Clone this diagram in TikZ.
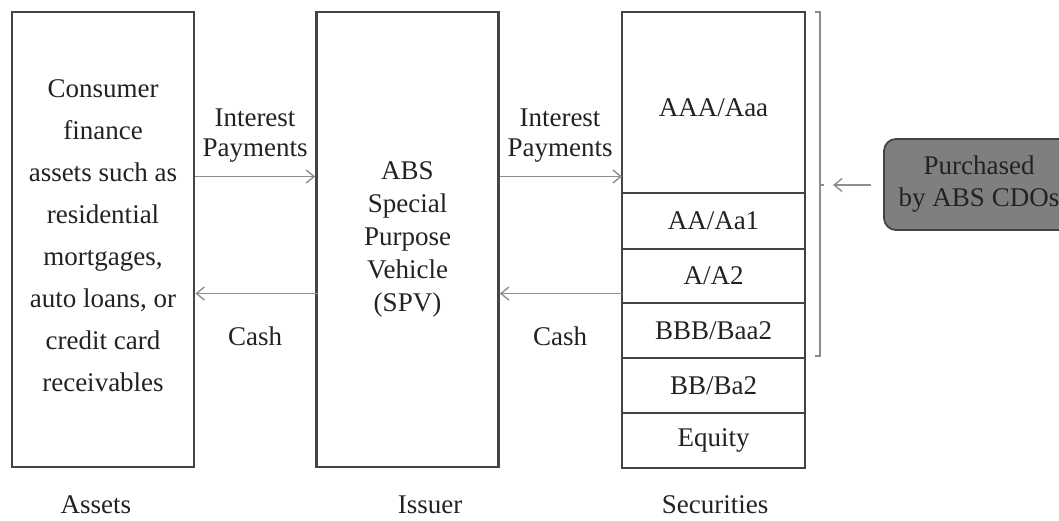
\documentclass[tikz,border=0pt]{standalone}
\usepackage{fontspec}
\setmainfont{Liberation Serif}
\usetikzlibrary{arrows.meta}
\definecolor{boxline}{HTML}{444444}
\definecolor{flowline}{HTML}{8E8E8E}
\definecolor{ink}{HTML}{222222}
\definecolor{buyfill}{HTML}{7F7F7F}
\begin{document}
\begin{tikzpicture}[x=1pt,y=-1pt,
  every node/.style={text=ink, font=\fontsize{27}{30}\selectfont, inner sep=0pt},
  bigbox/.style={draw=boxline, line width=2.6pt, minimum width=182pt, minimum height=455pt, align=center},
  tranche/.style={draw=boxline, line width=2.6pt, outer sep=0pt, minimum width=183pt, align=center},
  flow/.style={draw=flowline, line width=1.4pt, -{Straight Barb[length=8pt,width=13pt]}},
  lbl/.style={align=center},
  bracketline/.style={draw=flowline, line width=1.4pt},
  buybox/.style={draw=boxline, line width=1.8pt, fill=buyfill, rounded corners=12pt,
    minimum width=190pt, minimum height=91pt, align=center}
]
\useasboundingbox (0,0) rectangle (1059,520);
\clip (0,0) rectangle (1059,520);

% the three main boxes
\node[bigbox] (assets) at (103,239.5) {};
\node[align=center, font=\fontsize{27}{42}\selectfont] (assetstext) at ([yshift=4pt]assets.center)
  {Consumer\\finance\\assets such as\\residential\\mortgages,\\auto loans, or\\credit card\\receivables};
\node[bigbox, font=\fontsize{27}{33}\selectfont] (issuer) at (407.5,239.5)
  {ABS\\Special\\Purpose\\Vehicle\\(SPV)};

% tranche stack
\node[tranche, minimum height=181pt] (aaa) at (713.5,102.5) {};
\node (aaatext) at ([yshift=-5pt]aaa.center) {AAA/Aaa};
\node[tranche, minimum height=56pt, anchor=north] (aa) at (aaa.south) {AA/Aa1};
\node[tranche, minimum height=54pt, anchor=north] (a) at (aa.south) {A/A2};
\node[tranche, minimum height=55pt, anchor=north] (bbb) at (a.south) {BBB/Baa2};
\node[tranche, minimum height=55pt, anchor=north] (bb) at (bbb.south) {BB/Ba2};
\node[tranche, minimum height=55pt, anchor=north] (eq) at (bb.south) {Equity};

% flow levels
\coordinate (iy) at (0,176.5);
\coordinate (cy) at (0,293.5);

% interest and cash flows
\draw[flow] (assets.east |- iy) -- (issuer.west |- iy);
\draw[flow, shorten <=-3pt] (issuer.west |- cy) -- (assets.east |- cy);
\draw[flow] (issuer.east |- iy) -- (aaa.west |- iy);
\draw[flow] (a.west |- cy) -- (issuer.east |- cy);

\node[lbl] (ip1) at (255,135.5) {Interest\\Payments};
\node[lbl] (cash1) at (255,336) {Cash};
\node[lbl] (ip2) at (560,135.5) {Interest\\Payments};
\node[lbl] (cash2) at (560,336) {Cash};

% captions
\node[anchor=base] (capA) at (96,513) {Assets};
\node[anchor=base] (capI) at (430,513) {Issuer};
\node[anchor=base] (capS) at (715,513) {Securities};

% bracket over the investment-grade tranches
\coordinate (btop) at (820,12);
\coordinate (bbot) at (820,356);
\coordinate (bmid) at (820,185);
\draw[bracketline] ([xshift=-5pt]btop) -- (btop) -- (bbot) -- ([xshift=-5pt]bbot);
\draw[bracketline] (bmid) -- ([xshift=4pt]bmid);
\coordinate (brk) at (833,185);

% CDO buyers
\node[buybox, font=\fontsize{27}{32}\selectfont] (buy) at (979,184.5) {Purchased\\by ABS CDOs};
\draw[flow] ([xshift=-12pt]buy.west |- brk) -- (brk);
\end{tikzpicture}
\end{document}
